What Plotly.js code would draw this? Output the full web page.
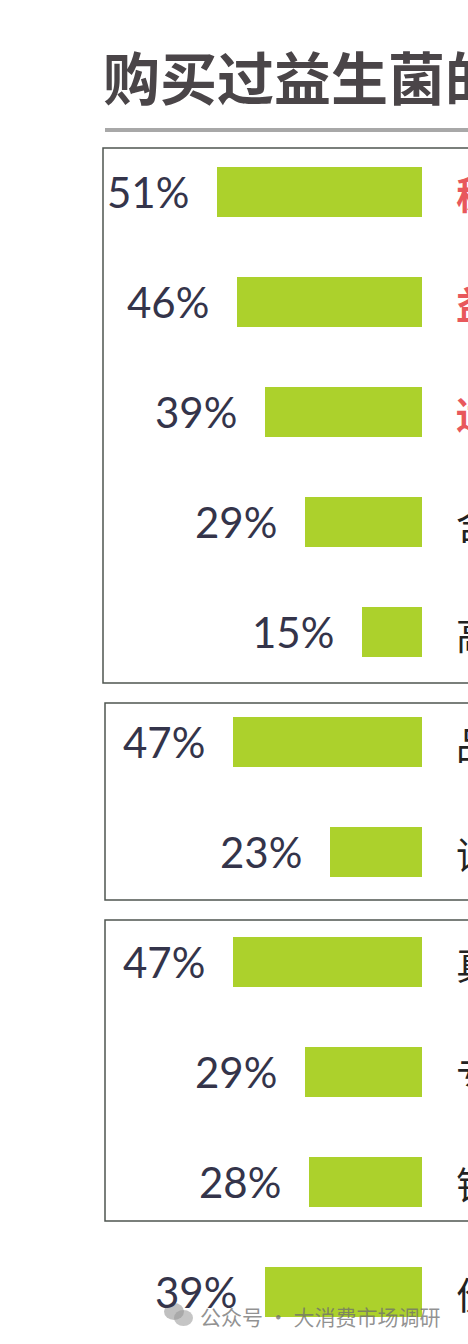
<!DOCTYPE html>
<html>
<head>
<meta charset="utf-8">
<script src="https://cdn.plot.ly/plotly-3.0.1.min.js"></script>
<style>html,body{margin:0;padding:0;background:#ffffff;overflow:hidden;}#chart{width:468px;height:1344px;}</style>
</head>
<body>
<div id="chart"></div>
<script>
// Data
const titleText = "购买过益生菌的主要原因";
const categories = ["稳定活菌数量","益生菌种类多","适合自身体质","含益生元","高活性","品牌知名度高","评价口碑好","真实有效","专业人士推荐","销量高","价格实惠"];
const values = [51, 46, 39, 29, 15, 47, 23, 47, 29, 28, 39];
const highlighted = [true, true, true, false, false, false, false, false, false, false, false];
const watermark = "公众号 · 大消费市场调研";

const W = 468, H = 1344;
const PLOT_W = 422;
const px = v => v / PLOT_W;     // paper x from pixel (left margin zero, plot width 422)
const py = v => 1 - v / H;      // paper y from pixel (vertical margins zero)

const barColor = "#acd12c";
const textColor = "#34344a";

const trace = {
  type: "bar",
  orientation: "h",
  x: values,
  y: categories,
  marker: {color: barColor, line: {width: 0}},
  width: 0.455,
  hoverinfo: "skip",
  showlegend: false
};

const annotations = [];
values.forEach((v, i) => {
  annotations.push({
    x: v, y: categories[i], xref: "x", yref: "y",
    text: v + "%", showarrow: false, xanchor: "right", yanchor: "middle",
    xshift: -26,
    font: {family: "Lato, 'Open Sans', sans-serif", size: 42, color: textColor}
  });
  annotations.push({
    x: px(454), y: categories[i], xref: "paper", yref: "y",
    text: highlighted[i] ? "<b>" + categories[i] + "</b>" : categories[i],
    showarrow: false, xanchor: "left", yanchor: "middle",
    font: {family: "'Noto Sans CJK SC', sans-serif", size: 38, color: highlighted[i] ? "#e8585c" : "#222222"}
  });
});
// title
annotations.push({
  x: px(101), y: py(75), xref: "paper", yref: "paper",
  text: "<b>" + titleText + "</b>", showarrow: false, xanchor: "left", yanchor: "middle",
  font: {family: "'Noto Sans CJK SC', sans-serif", size: 57, color: "#4a4548"}
});
// watermark
annotations.push({
  x: px(198), y: py(1316), xref: "paper", yref: "paper",
  text: watermark, showarrow: false, xanchor: "left", yanchor: "middle",
  font: {family: "'Noto Sans CJK SC', sans-serif", size: 21, color: "rgba(110,110,110,0.75)"}
});

const boxLine = {color: "#4f5550", width: 1.5};
const shapes = [
  {type: "line", xref: "paper", yref: "paper", x0: px(105), x1: px(480), y0: py(130), y1: py(130), line: {color: "#a8a8a8", width: 4}},
  {type: "rect", xref: "paper", yref: "paper", x0: px(103), x1: px(480), y0: py(148), y1: py(683), line: boxLine, layer: "below"},
  {type: "rect", xref: "paper", yref: "paper", x0: px(105), x1: px(480), y0: py(703), y1: py(900), line: boxLine, layer: "below"},
  {type: "rect", xref: "paper", yref: "paper", x0: px(105), x1: px(480), y0: py(920), y1: py(1221), line: boxLine, layer: "below"},
  // watermark icon
  {type: "circle", xref: "paper", yref: "paper", x0: px(164), x1: px(184), y0: py(1303), y1: py(1320), fillcolor: "rgba(140,140,140,0.55)", line: {width: 0}},
  {type: "circle", xref: "paper", yref: "paper", x0: px(174), x1: px(193), y0: py(1310), y1: py(1326), fillcolor: "rgba(150,150,150,0.55)", line: {width: 0}}
];

const layout = {
  width: W, height: H,
  margin: {l: 0, r: W - PLOT_W, t: 0, b: 0, pad: 0},
  paper_bgcolor: "#ffffff", plot_bgcolor: "rgba(0,0,0,0)",
  xaxis: {range: [105, 0], visible: false, fixedrange: true},
  yaxis: {type: "category", range: [(H - 192) / 110, -192 / 110], visible: false, fixedrange: true},
  bargap: 0,
  annotations: annotations,
  shapes: shapes,
  showlegend: false
};

Plotly.newPlot("chart", [trace], layout, {displayModeBar: false, staticPlot: true});
</script>
</body>
</html>
